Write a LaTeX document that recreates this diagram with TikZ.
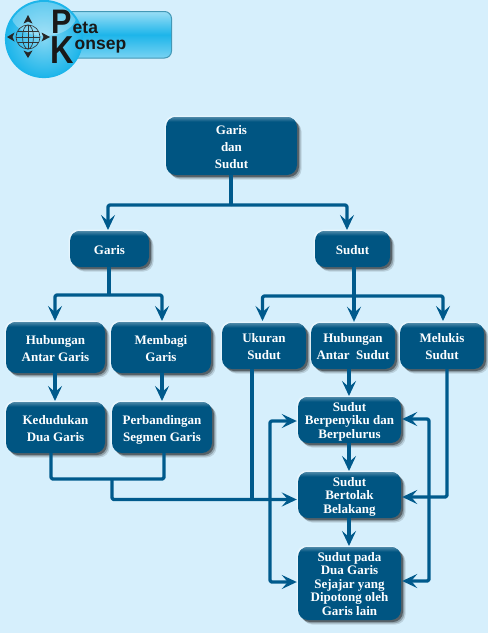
\documentclass[tikz,border=0pt]{standalone}
\usepackage{fontspec}
\setmainfont{Liberation Serif}
\newfontfamily\logofont{Liberation Sans}
\usetikzlibrary{arrows.meta,calc}
\definecolor{bgc}{HTML}{D6EFFC}
\definecolor{boxc}{HTML}{005582}
\definecolor{linec}{HTML}{005A8C}
\definecolor{logoc}{HTML}{1DB5EA}
\tikzset{
  boxtext/.style={text=white!95!bgc,align=center,inner sep=0pt,
    font=\bfseries\fontsize{13}{17}\selectfont},
  tightbox/.style={font=\bfseries\fontsize{13}{13.5}\selectfont},
  conn/.style={draw=linec,line width=3.2pt,line join=round,rounded corners=1.5pt},
  arr/.style={conn,shorten >=1pt,-{Stealth[length=15pt,width=14pt,inset=6pt]}},
  darr/.style={conn,shorten >=1pt,shorten <=1pt,{Stealth[length=15pt,width=14pt,inset=6pt]}-{Stealth[length=15pt,width=14pt,inset=6pt]}},
  logobig/.style={anchor=base west,inner sep=0pt,text=black!90,font=\logofont\bfseries\fontsize{#1}{#1}\selectfont},
}
\newcommand{\rrpath}[4]{({#1+10},#2) -- ({#3-10},#2)
    .. controls ({#3-4.5},#2) and (#3,{#2+4.5}) .. (#3,{#2+10})
    -- (#3,{#4-10})
    .. controls (#3,{#4-4.5}) and ({#3-4.5},#4) .. ({#3-10},#4)
    -- ({#1+10},#4)
    .. controls ({#1+4.5},#4) and (#1,{#4-4.5}) .. (#1,{#4-10})
    -- (#1,{#2+10})
    .. controls (#1,{#2+4.5}) and ({#1+4.5},#2) .. ({#1+10},#2) -- cycle}
\newcommand{\bx}[7][]{% opts,name,x0,y0,x1,y1,text
  \fill[white,opacity=.4] \rrpath{#3-1.4}{#4-1.4}{#5-1.4}{#6-1.4};
  \fill[black,opacity=.12] \rrpath{#3+4.5}{#4+4.5}{#5+4.5}{#6+4.5};
  \fill[black,opacity=.22] \rrpath{#3+3.3}{#4+3.3}{#5+3.3}{#6+3.3};
  \fill[black,opacity=.4] \rrpath{#3+2}{#4+2}{#5+2}{#6+2};
  \fill[boxc] \rrpath{#3}{#4}{#5}{#6};
  \begin{scope}
    \clip \rrpath{#3}{#4}{#5}{#6};
    \shade[top color=boxc!70!white,bottom color=boxc] (#3,#4) rectangle (#5,{#4+4.5});
  \end{scope}
  \node[boxtext,#1,minimum width={(#5-#3)*1pt},minimum height={(#6-#4)*1pt}] (#2) at ({(#3+#5)/2},{(#4+#6)/2})
    {\raisebox{-1.8pt}[\height][\depth]{\begin{tabular}{@{}c@{}}#7\end{tabular}}};}
\begin{document}
\begin{tikzpicture}[x=1pt,y=-1pt]
\useasboundingbox (0,0) rectangle (488,633);
\fill[bgc] (0,0) rectangle (488,633);
% logo
\draw[draw=logoc!70!black!80,line width=1pt,rounded corners=7pt,top color=logoc!45!white,bottom color=logoc!60!white,middle color=logoc]
  (66,11.5) rectangle (171.5,58);
\node[circle,minimum size=77pt,inner sep=0pt,draw=logoc,line width=1.2pt,
  shade,shading=radial,inner color=logoc!55!white,outer color=logoc] (logoball) at (44,39) {};
\begin{scope}
  \clip (44,39) circle (37pt);
  \fill[white,opacity=.3] (44,14) ellipse (33pt and 22pt);
\end{scope}
\coordinate (gl) at (28,37);
\begin{scope}[draw=black!80,line width=.65pt]
  \draw (gl) circle (12pt);
  \draw (gl) ellipse (5.5pt and 12pt);
  \draw ($(gl)+(-12,0)$) -- ($(gl)+(12,0)$);
  \draw ($(gl)+(-10.5,-5.5)$) -- ($(gl)+(10.5,-5.5)$);
  \draw ($(gl)+(-10.5,5.5)$) -- ($(gl)+(10.5,5.5)$);
  \draw ($(gl)+(0,-12)$) -- ($(gl)+(0,12)$);
\end{scope}
\fill[black!85] ($(gl)+(0,-22)$) -- ($(gl)+(4.5,-13.5)$) -- ($(gl)+(0,-15.5)$) -- ($(gl)+(-4.5,-13.5)$) -- cycle;
\fill[black!85] ($(gl)+(0,21)$) -- ($(gl)+(4.5,13.5)$) -- ($(gl)+(0,15.5)$) -- ($(gl)+(-4.5,13.5)$) -- cycle;
\fill[black!85] ($(gl)+(-21,0)$) -- ($(gl)+(-13.5,-4.5)$) -- ($(gl)+(-15.5,0)$) -- ($(gl)+(-13.5,4.5)$) -- cycle;
\fill[black!85] ($(gl)+(22,0)$) -- ($(gl)+(13.5,-4.5)$) -- ($(gl)+(15.5,0)$) -- ($(gl)+(13.5,4.5)$) -- cycle;
\node[logobig=34] (lp) at (51,33) {\scalebox{.9}[1]{P}};
\node[logobig=39] (lk) at (50,63) {\scalebox{.83}[1]{K}};
\node[logobig=17.5] (leta) at (72.5,33.5) {eta};
\node[logobig=17.5] (lonsep) at (74.5,49) {onsep};
% boxes
\bx{root}{166}{117}{297}{175}{Garis\\dan\\Sudut}
\bx{garis}{70}{231}{149}{267}{Garis}
\bx{sudut}{315}{231}{390}{267}{Sudut}
\bx{hag}{6}{322}{105}{373}{Hubungan\\Antar Garis}
\bx{mg}{111}{322}{211}{373}{Membagi\\Garis}
\bx{kdg}{6}{402}{105}{453}{Kedudukan\\Dua Garis}
\bx{psg}{112}{402}{212}{453}{Perbandingan\\Segmen Garis}
\bx{us}{222}{323}{306}{369}{Ukuran\\Sudut}
\bx{has}{311}{323}{395}{369}{Hubungan\\Antar\ \ Sudut}
\bx{ms}{400}{323}{484}{369}{Melukis\\Sudut}
\bx[tightbox]{sbb}{298}{397}{401}{443}{Sudut\\Berpenyiku dan\\Berpelurus}
\bx[tightbox]{sbl}{298}{472}{401}{518}{Sudut\\Bertolak\\Belakang}
\bx[tightbox]{spd}{298}{547}{401}{620}{Sudut pada\\Dua Garis\\Sejajar yang\\Dipotong oleh\\Garis lain}
% connectors
\coordinate (j1) at (231,205);
\draw[conn] (root.south -| j1) -- (j1);
\draw[arr] (j1) -| (108,231);
\draw[arr] (j1) -| (347,231);
\coordinate (j2) at (109,295);
\draw[conn] (garis.south -| j2) -- (j2);
\draw[arr] (j2) -| (55,322);
\draw[arr] (j2) -| (162,322);
\draw[arr] (55,373) -- (55,402);
\draw[arr] (162,373) -- (162,402);
\coordinate (j3) at (354,296);
\draw[conn] (sudut.south -| j3) -- (j3);
\draw[arr] (j3) -| (262.5,322);
\draw[arr] (j3) -- (has.north -| j3);
\draw[arr] (j3) -| (443,322);
\draw[arr] (349,369) -- (349,397);
\draw[arr] (349,443) -- (349,472);
\draw[arr] (349,518) -- (349,547);
% lower left bus
\coordinate (j4) at (112,479);
\draw[conn] (51,453) |- (j4) -| (164,453);
\coordinate (bus) at (252,499.5);
\draw[arr] (j4) |- (sbl.west |- bus);
\draw[conn] (252,369) -- (bus);
% right
\draw[arr] (447,369) |- (sbl.east |- 0,497);
% side loops
\coordinate (ltop) at (270,421);
\coordinate (lbot) at (270,582);
\coordinate (rtop) at (429,419);
\coordinate (rbot) at (429,581);
\draw[darr] (sbb.west |- ltop) -- (ltop) -- (lbot) -- (spd.west |- lbot);
\draw[darr] (sbb.east |- rtop) -- (rtop) -- (rbot) -- (spd.east |- rbot);
\end{tikzpicture}
\end{document}
